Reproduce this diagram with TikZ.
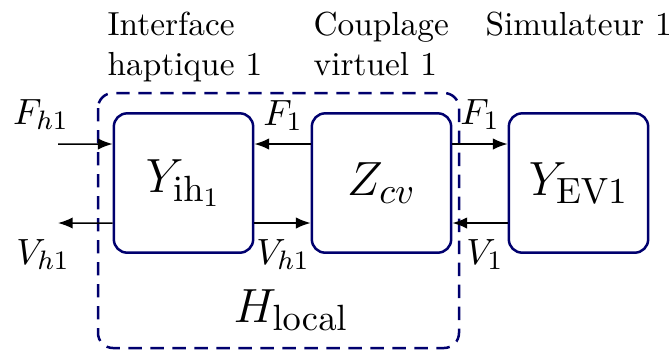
\documentclass[tikz,border=0pt]{standalone}
\usetikzlibrary{arrows.meta}
\definecolor{boxblue}{RGB}{0,0,110}
\begin{document}
\begin{tikzpicture}[x=0.3pt,y=-0.3pt,
  blk/.style={draw=boxblue,line width=0.75pt,rounded corners=4pt,minimum width=41.8pt,minimum height=41.8pt,inner sep=0pt,font=\fontsize{15.3}{18}\selectfont},
  lbl/.style={anchor=base,inner sep=0pt,font=\fontsize{11}{13}\selectfont},
  ttl/.style={anchor=north west,inner sep=0pt,align=left},
  sig/.style={line width=0.45pt,-{Latex[length=4.4pt,width=3.4pt]}}]
\useasboundingbox (0,0) rectangle (672,351);
% dashed local group
\draw[boxblue,line width=0.75pt,dashed,dash pattern=on 4pt off 2.6pt,rounded corners=4.5pt] (98,93) rectangle (459,348);
% blocks
\node[blk] (ih) at (183.5,183) {$Y_{\mathrm{ih}_1}$};
\node[blk] (cv) at (381.5,183) {$Z_{cv}$};
\node[blk] (ev) at (578.5,183) {$Y_{\mathrm{EV1}}$};
% titles
\node[ttl] (t1) at (107,11) {Interface\\haptique 1};
\node[ttl] (t2) at (313,11) {Couplage\\virtuel 1};
\node[ttl] (t3) at (485,11) {Simulateur 1};
% free ends
\coordinate (fin) at (58,144);
\coordinate (vout) at (58,223);
% arrows
\draw[sig] (fin) -- ([yshift=11.7pt]ih.west);
\draw[sig] ([yshift=-12pt]ih.west) -- (vout);
\draw[sig] ([yshift=11.7pt]cv.west) -- ([yshift=11.7pt]ih.east);
\draw[sig] ([yshift=-12pt]ih.east) -- ([yshift=-12pt]cv.west);
\draw[sig] ([yshift=11.7pt]cv.east) -- ([yshift=11.7pt]ev.west);
\draw[sig] ([yshift=-12pt]ev.west) -- ([yshift=-12pt]cv.east);
% signal labels
\node[lbl] (lfh) at (41,124) {$F_{h1}$};
\node[lbl] (lvh) at (43,264) {$V_{h1}$};
\node[lbl] (lf1a) at (283,125) {$F_1$};
\node[lbl] (lvh2) at (283,264) {$V_{h1}$};
\node[lbl] (lf1b) at (480,124) {$F_1$};
\node[lbl] (lv1) at (485,264) {$V_1$};
\node[lbl,font=\fontsize{15.3}{18}\selectfont] (hl) at (291,322) {$H_{\mathrm{local}}$};
\end{tikzpicture}
\end{document}
